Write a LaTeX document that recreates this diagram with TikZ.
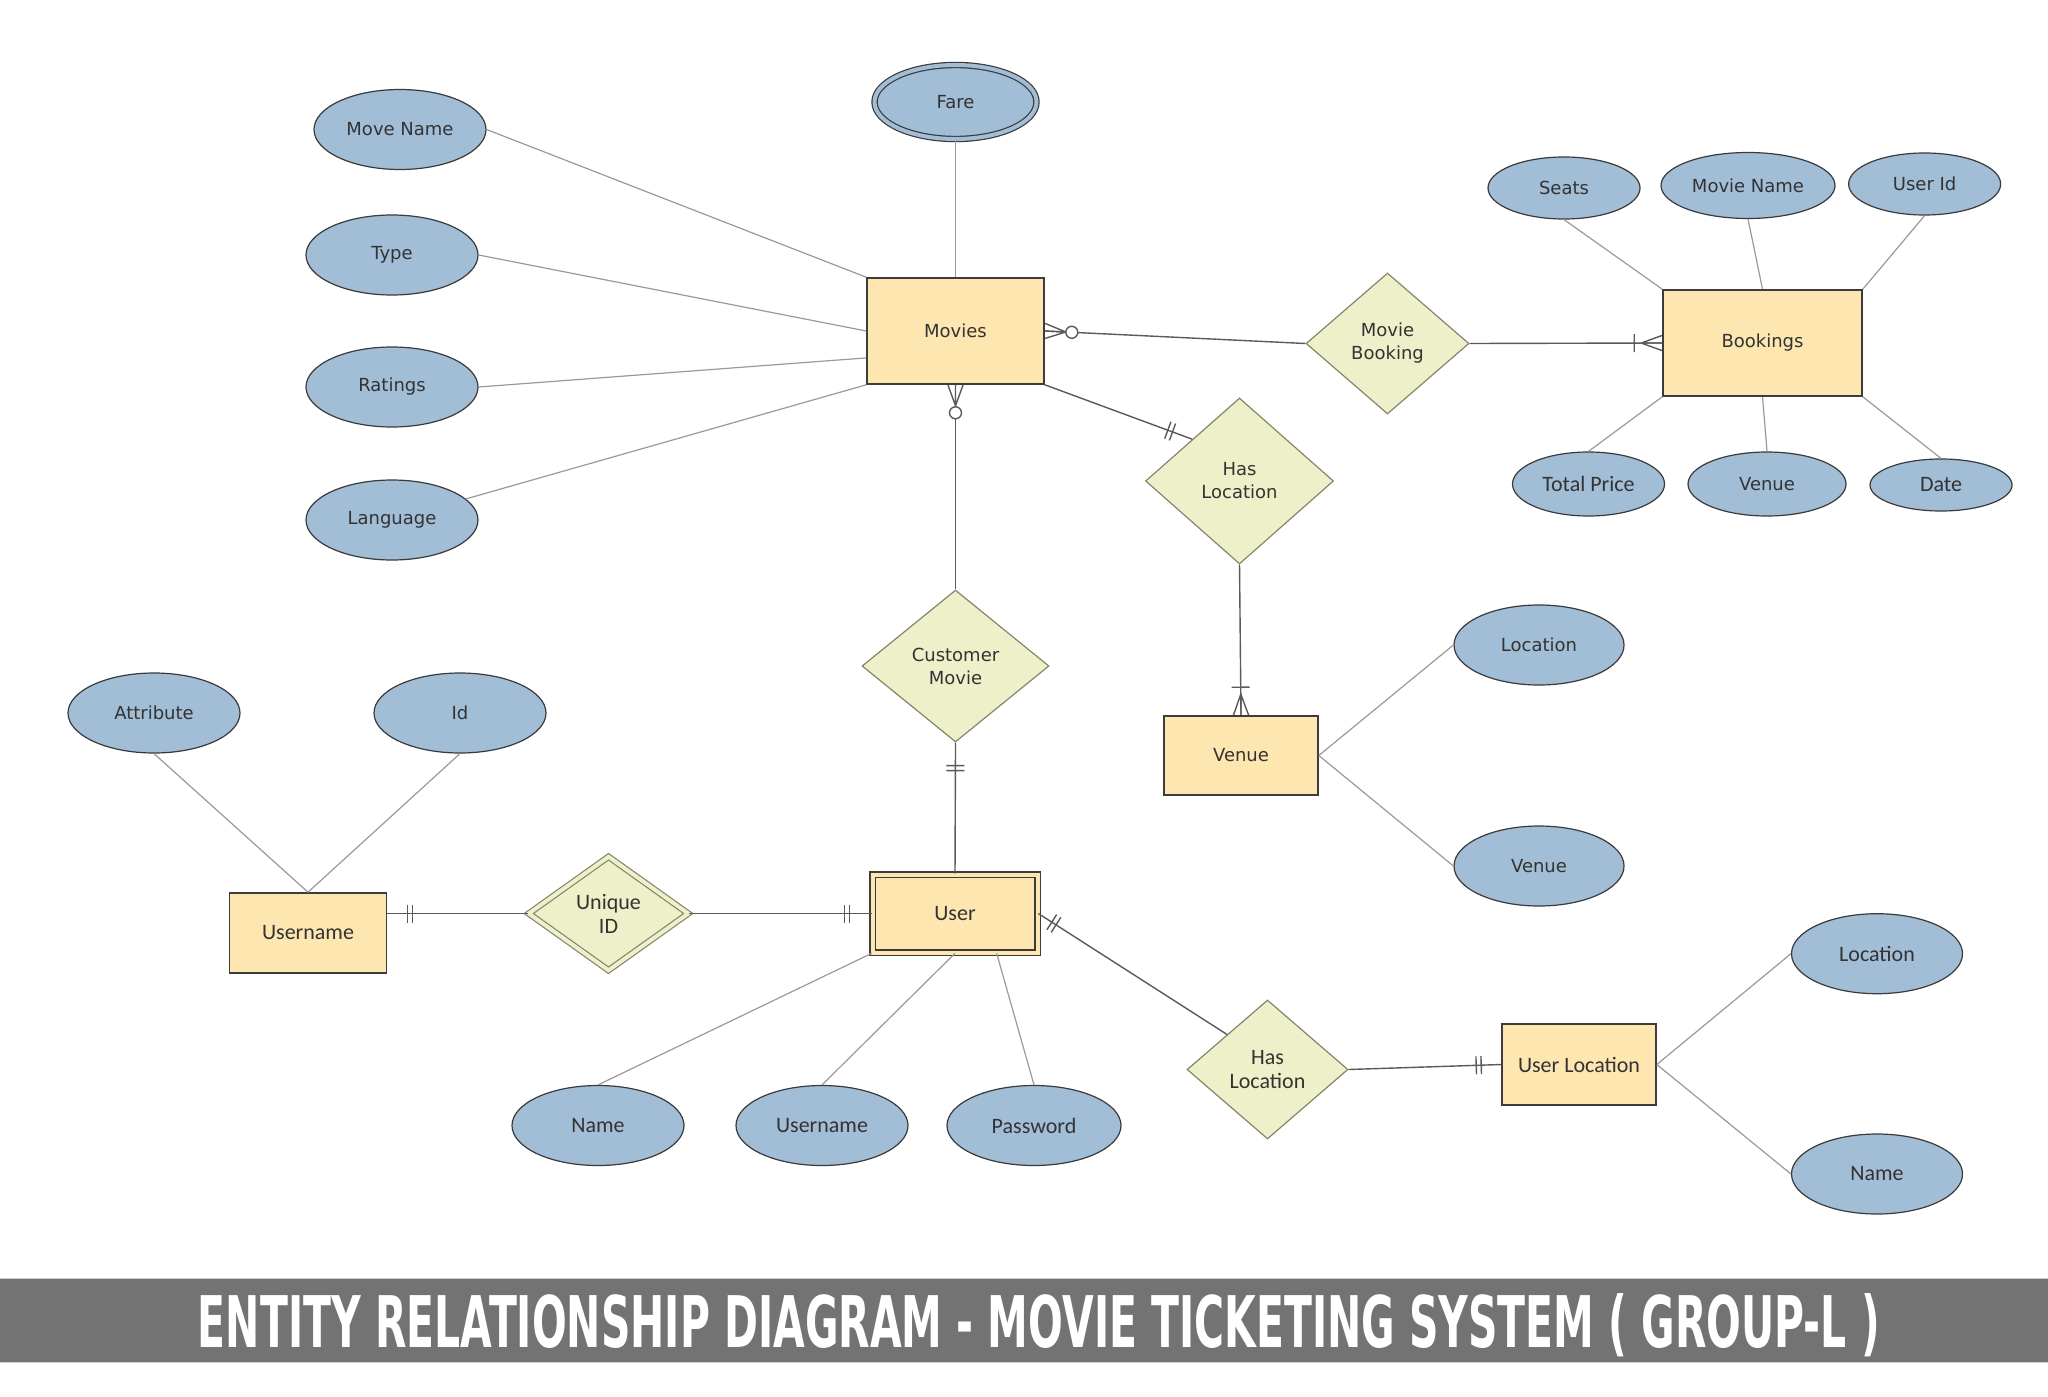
\documentclass[tikz,border=0pt]{standalone}
\usepackage{fontspec}
\setmainfont{DejaVu Sans}
\newfontfamily\calfont{Carlito}
\usetikzlibrary{shapes.geometric,calc}
\definecolor{attrfill}{HTML}{A2BDD6}
\definecolor{attrline}{HTML}{3A3A3A}
\definecolor{entfill}{HTML}{FDE6B0}
\definecolor{entline}{HTML}{3C3C3C}
\definecolor{relfill}{HTML}{EDF0C8}
\definecolor{relline}{HTML}{85856C}
\definecolor{alinecol}{HTML}{9A9A9A}
\definecolor{clinecol}{HTML}{5A5A5A}
\definecolor{txt}{HTML}{333333}
\definecolor{banner}{HTML}{737373}
\newcommand\erBar[3]{\coordinate (mk) at ($(#1)!#3!(#2)$);
  \draw[mline] ($(mk)!4.5pt!90:(#2)$) -- ($(mk)!4.5pt!-90:(#2)$);}
\newcommand\erCrow[2]{\coordinate (mk) at ($(#1)!10.5pt!(#2)$);
  \draw[mline] (mk) -- ($(#1)!3.8pt!90:(#2)$) (mk) -- ($(#1)!3.8pt!-90:(#2)$) (mk) -- (#1);}
\newcommand\erCircle[3]{\coordinate (mk) at ($(#1)!#3!(#2)$);
  \draw[mline,fill=white] (mk) circle[radius=3pt];}
\begin{document}
\begin{tikzpicture}[x=0.5pt,y=-0.5pt,
  attr/.style={ellipse,draw=attrline,fill=attrfill,line width=0.6pt,inner sep=0pt,
    minimum width=86pt,minimum height=40pt,text=txt,font=\fontsize{9}{11}\selectfont},
  cattr/.style={attr,font=\calfont\fontsize{11}{12}\selectfont},
  ent/.style={rectangle,draw=entline,fill=entfill,line width=0.8pt,inner sep=0pt,
    text=txt,font=\fontsize{9}{11}\selectfont},
  cent/.style={ent,font=\calfont\fontsize{11}{12}\selectfont},
  rel/.style={diamond,draw=relline,fill=relfill,line width=0.6pt,inner sep=0pt,
    align=center,text=txt,font=\fontsize{9}{11.5}\selectfont},
  crel/.style={rel,font=\calfont\fontsize{11}{12}\selectfont},
  aline/.style={draw=alinecol,line width=0.6pt},
  cline/.style={draw=clinecol,line width=0.7pt},
  mline/.style={draw=clinecol,line width=0.7pt}]
\useasboundingbox (0,0) rectangle (2048,1396);
\fill[white] (0,0) rectangle (2048,1396);

% ---------- nodes ----------
\node[attr,double=attrfill,double distance=2pt,minimum width=81pt,minimum height=37pt] (fare) at (955.5,102) {Fare};
\node[ent,minimum width=88.5pt,minimum height=53pt] (mv) at (955.5,331) {Movies};
\node[attr] (mn) at (400,129.5) {Move Name};
\node[attr] (ty) at (392,255) {Type};
\node[attr] (rt) at (392,387) {Ratings};
\node[attr] (lg) at (392,520) {Language};

\node[rel,minimum width=81.5pt,minimum height=70.5pt] (mb) at (1387.5,343.5) {Movie\\Booking};
\node[ent,minimum width=99.5pt,minimum height=53pt] (bk) at (1762.5,343) {Bookings};
\node[attr,minimum width=76pt,minimum height=31pt] (seats) at (1564,188) {Seats};
\node[attr,minimum width=87pt,minimum height=33pt] (mvn) at (1748,185.5) {Movie Name};
\node[attr,minimum width=76pt,minimum height=31pt] (usid) at (1924.6,184) {User Id};
\node[cattr,minimum width=76pt,minimum height=32pt] (tp) at (1588.5,484) {Total Price};
\node[attr,minimum width=79pt,minimum height=32pt] (vn2) at (1767,484) {Venue};
\node[cattr,minimum width=71pt,minimum height=26pt] (dt) at (1941,485) {Date};

\node[rel,minimum width=94pt,minimum height=83pt] (hl1) at (1239.5,481) {Has\\Location};
\node[ent,minimum width=77pt,minimum height=39.5pt] (vn) at (1241,755.5) {Venue};
\node[attr,minimum width=85pt] (loc1) at (1539,645) {Location};
\node[attr,minimum width=85pt] (vn3) at (1539,866) {Venue};

\node[rel,minimum width=93.5pt,minimum height=76pt] (cm) at (955.5,666) {Customer\\Movie};
\node[cent,double=entfill,double distance=2pt,minimum width=82.5pt,minimum height=39pt] (us) at (955,913.5) {User};
\node[cent,minimum width=78.5pt,minimum height=40pt] (un) at (308,933) {Username};
\node[crel,double=relfill,double distance=2pt,minimum width=80pt,minimum height=57pt] (uid) at (608.5,913.5) {Unique\\ID};
\node[attr] (atb) at (154,713) {Attribute};
\node[attr] (idd) at (460,713) {Id};
\node[cattr] (nm) at (598,1125.5) {Name};
\node[cattr] (usn) at (822,1125.5) {Username};
\node[cattr,minimum width=87pt] (pw) at (1034,1125.5) {Password};

\node[crel,minimum width=80.5pt,minimum height=69.5pt] (hl2) at (1267.5,1069.5) {Has\\Location};
\node[cent,minimum width=77pt,minimum height=40.5pt] (ul) at (1579,1064.5) {User Location};
\node[cattr,minimum width=85.5pt] (loc2) at (1877,953.7) {Location};
\node[cattr,minimum width=85.5pt] (nm2) at (1877,1174) {Name};

% ---------- attribute lines ----------
\draw[aline] (fare) -- (mv.north);
\draw[aline] (mn.east) -- (mv.north west);
\draw[aline] (ty.east) -- (mv.west);
\coordinate (mvr) at ($(mv.west)!0.5!(mv.south west)$);
\draw[aline] (rt.east) -- (mvr);
\draw[aline] (lg) -- (mv.south west);
\draw[aline] (seats.south) -- (bk.north west);
\draw[aline] (mvn.south) -- (bk.north);
\draw[aline] (usid.south) -- (bk.north east);
\draw[aline] (tp.north) -- (bk.south west);
\draw[aline] (vn2.north) -- (bk.south);
\draw[aline] (dt.north) -- (bk.south east);
\draw[aline] (loc1.west) -- (vn.east);
\draw[aline] (vn3.west) -- (vn.east);
\draw[aline] (atb.south) -- (un.north);
\draw[aline] (idd.south) -- (un.north);
\draw[aline] (nm.north) -- (us.south west);
\draw[aline] (usn.north) -- (us.south);
\coordinate (usp) at ($(us.south)!0.5!(us.south east)$);
\draw[aline] (pw.north) -- (usp);
\draw[aline] (loc2.west) -- (ul.east);
\draw[aline] (nm2.west) -- (ul.east);

% ---------- relationship connectors ----------
\draw[cline] (mv.east) -- (mb.west);
\coordinate (a1) at (mv.east); \coordinate (b1) at (mb.west);
\erCrow{a1}{b1} \erCircle{a1}{b1}{13.5pt}

\draw[cline] (mb.east) -- (bk.west);
\coordinate (a2) at (bk.west); \coordinate (b2) at (mb.east);
\erCrow{a2}{b2} \erBar{a2}{b2}{14pt}

\draw[cline] (mv.south east) -- (hl1.north west);
\coordinate (a3) at (hl1.north west); \coordinate (b3) at (mv.south east);
\erBar{a3}{b3}{10.5pt} \erBar{a3}{b3}{13pt}

\draw[cline] (hl1.south) -- (vn.north);
\coordinate (a4) at (vn.north); \coordinate (b4) at (hl1.south);
\erCrow{a4}{b4} \erBar{a4}{b4}{14pt}

\draw[cline] (mv.south) -- (cm.north);
\coordinate (a5) at (mv.south); \coordinate (b5) at (cm.north);
\erCrow{a5}{b5} \erCircle{a5}{b5}{14pt}

\draw[cline] (cm.south) -- (us.north);
\coordinate (a6) at (cm.south); \coordinate (b6) at (us.north);
\erBar{a6}{b6}{11.5pt} \erBar{a6}{b6}{14pt}

\coordinate (a7) at (un.east |- uid.west);
\draw[cline] (a7) -- (uid.west);
\coordinate (b7) at (uid.west);
\erBar{a7}{b7}{10pt} \erBar{a7}{b7}{12.5pt}

\draw[cline] (uid.east) -- (us.west);
\coordinate (a8) at (us.west); \coordinate (b8) at (uid.east);
\erBar{a8}{b8}{11pt} \erBar{a8}{b8}{13.5pt}

\draw[cline] (us.east) -- (hl2.north west);
\coordinate (a9) at (us.east); \coordinate (b9) at (hl2.north west);
\erBar{a9}{b9}{8pt} \erBar{a9}{b9}{10.5pt}

\draw[cline] (hl2.east) -- (ul.west);
\coordinate (a10) at (ul.west); \coordinate (b10) at (hl2.east);
\erBar{a10}{b10}{10pt} \erBar{a10}{b10}{12.5pt}

% ---------- banner ----------
\fill[banner] (0,1278) rectangle (2048,1362);
\draw[draw=white!80!black,line width=0.5pt] (0,1278) -- (2048,1278) (0,1362) -- (2048,1362);
\node[anchor=base,inner sep=0pt,text=white,font=\bfseries] (title) at (1039,1347)
  {\resizebox{841pt}{27pt}{ENTITY RELATIONSHIP DIAGRAM - MOVIE TICKETING SYSTEM ( GROUP-L )}};
\end{tikzpicture}
\end{document}
